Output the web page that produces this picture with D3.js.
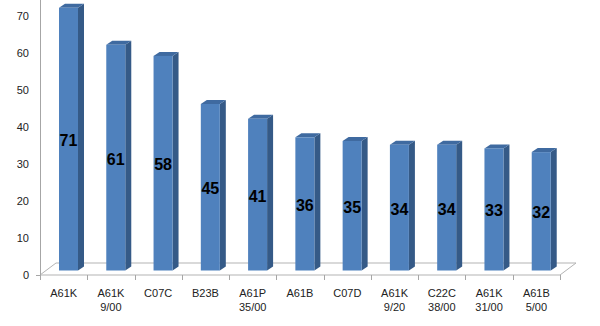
<!DOCTYPE html>
<html>
<head>
<meta charset="utf-8">
<script src="https://cdn.jsdelivr.net/npm/d3@7"></script>
<style>
  body { margin: 0; background: #fff; }
  svg { display: block; font-family: "Liberation Sans", Arial, sans-serif; }
</style>
</head>
<body>
<div id="chart"></div>
<script>
// categories (two-line labels) and counts
var codes = ['A61K', 'A61K', 'C07C', 'B23B', 'A61P', 'A61B', 'C07D', 'A61K', 'C22C', 'A61K', 'A61B'];
var subs = ['', '9/00', '', '', '35/00', '', '', '9/20', '38/00', '31/00', '5/00'];
var counts = [71, 61, 58, 45, 41, 36, 35, 34, 34, 33, 32];
var yTicks = [0, 10, 20, 30, 40, 50, 60, 70];

var W = 600, H = 326;
var svg = d3.select('#chart').append('svg').attr('width', W).attr('height', H);

var idx = d3.range(counts.length);
var x = d3.scaleBand().domain(idx).range([40, 560]).paddingInner(0).paddingOuter(0);
var y = d3.scaleLinear().domain([0, 70]).range([275, 16]);

// 3d offsets
var floorDx = 16, floorDy = -12;
var barLift = 4.5, barShift = 19, barW = 19;
var sideDx = 6, sideDy = -4;

// floor
svg.append('path')
  .attr('d', 'M40,275 L560,275 L' + (560 + floorDx) + ',' + (275 + floorDy) +
    ' L' + (40 + floorDx) + ',' + (275 + floorDy) + ' Z')
  .attr('fill', 'none')
  .attr('stroke', '#b3b3b3')
  .attr('stroke-width', 1);

// y axis line
svg.append('line')
  .attr('x1', 40.5).attr('x2', 40.5)
  .attr('y1', 0).attr('y2', 275)
  .attr('stroke', '#a6a6a6');

svg.append('line')
  .attr('x1', 36).attr('x2', 40.5)
  .attr('y1', 275.5).attr('y2', 275.5)
  .attr('stroke', '#a6a6a6');

svg.selectAll('.ytick')
  .data(yTicks)
  .enter()
  .append('text')
  .attr('x', 29)
  .attr('y', function(d) { return y(d) + 4; })
  .attr('text-anchor', 'end')
  .attr('font-size', 11)
  .attr('fill', '#222')
  .text(function(d) { return d; });

// category ticks
var bounds = idx.map(function(i) { return x(i); }).concat([560]);
svg.selectAll('.xtick')
  .data(bounds)
  .enter()
  .append('line')
  .attr('x1', function(d) { return Math.round(d) + 0.5; })
  .attr('x2', function(d) { return Math.round(d) + 0.5; })
  .attr('y1', 275).attr('y2', 280)
  .attr('stroke', '#a6a6a6');

// bars
var bars = svg.selectAll('.bar')
  .data(idx)
  .enter()
  .append('g')
  .classed('bar', true);

function fx(i) { return x(i) + barShift; }
function barTop(i) { return y(counts[i]) - barLift; }
var barBottom = y(0) - barLift;

bars.append('path')
  .attr('fill', '#355a87')
  .attr('d', function(i) {
    var x0 = fx(i) + barW;
    return 'M' + x0 + ',' + barTop(i) + ' L' + (x0 + sideDx) + ',' + (barTop(i) + sideDy) +
      ' L' + (x0 + sideDx) + ',' + (barBottom + sideDy) + ' L' + x0 + ',' + barBottom + ' Z';
  });

bars.append('path')
  .attr('fill', '#3f6aa0')
  .attr('d', function(i) {
    var x0 = fx(i);
    return 'M' + x0 + ',' + barTop(i) + ' L' + (x0 + sideDx) + ',' + (barTop(i) + sideDy) +
      ' L' + (x0 + barW + sideDx) + ',' + (barTop(i) + sideDy) + ' L' + (x0 + barW) + ',' + barTop(i) + ' Z';
  });

bars.append('rect')
  .attr('x', fx)
  .attr('y', barTop)
  .attr('width', barW)
  .attr('height', function(i) { return barBottom - barTop(i); })
  .attr('fill', '#4f81bd');

bars.append('text')
  .attr('x', function(i) { return fx(i) + barW / 2; })
  .attr('y', function(i) { return (barTop(i) + barBottom) / 2 + 7; })
  .attr('text-anchor', 'middle')
  .attr('font-size', 16)
  .attr('font-weight', 'bold')
  .attr('fill', '#000')
  .text(function(i) { return counts[i]; });

// category labels
var cl = svg.selectAll('.cat')
  .data(idx)
  .enter()
  .append('text')
  .attr('text-anchor', 'middle')
  .attr('font-size', 11)
  .attr('fill', '#222');

cl.append('tspan')
  .attr('x', function(i) { return x(i) + x.bandwidth() / 2; })
  .attr('y', 297)
  .text(function(i) { return codes[i]; });

cl.append('tspan')
  .attr('x', function(i) { return x(i) + x.bandwidth() / 2; })
  .attr('y', 311)
  .text(function(i) { return subs[i]; });
</script>
</body>
</html>
